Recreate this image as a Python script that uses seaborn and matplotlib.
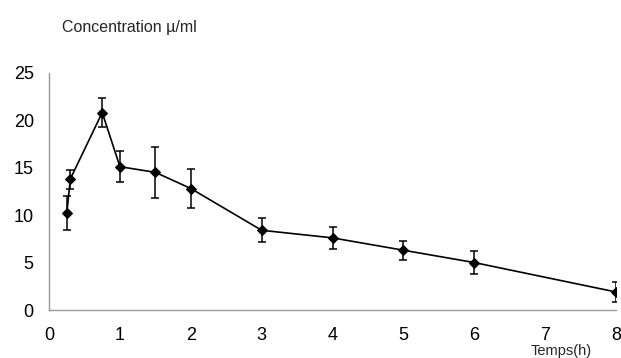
import pandas as pd
import matplotlib
matplotlib.use("Agg")
import matplotlib.pyplot as plt
import seaborn as sns

# time (h), concentration and its error
temps = [0.25, 0.3, 0.75, 1, 1.5, 2, 3, 4, 5, 6, 8]
conc = [10.2, 13.8, 20.8, 15.1, 14.5, 12.8, 8.4, 7.6, 6.3, 5.0, 1.9]
err = [1.8, 1.0, 1.5, 1.6, 2.7, 2.1, 1.25, 1.15, 1.0, 1.2, 1.1]

df = pd.DataFrame({"Temps": temps, "Conc": conc, "Err": err})

sns.set_style("white")
plt.rcParams['font.family'] = ['Liberation Sans', 'DejaVu Sans']

fig = plt.figure(figsize=(6.21, 3.58), dpi=100)
ax = fig.add_axes([0.079, 0.134, 0.913, 0.663])

# error bars with caps
ax.errorbar(df["Temps"], df["Conc"], yerr=df["Err"], fmt="none",
            ecolor="black", elinewidth=1.1, capsize=3, capthick=1.1, zorder=2)
sns.lineplot(data=df, x="Temps", y="Conc", color="black", linewidth=1.2,
             marker="D", markersize=5.5, markeredgecolor="black", ax=ax, zorder=3)

ax.set_xlim(0, 8)
ax.set_ylim(0, 25)
ax.set_xticks(range(0, 9))
ax.set_yticks(range(0, 26, 5))
ax.set_xlabel("")
ax.set_ylabel("")

for s in ["top", "right"]:
    ax.spines[s].set_visible(False)
for s in ["left", "bottom"]:
    ax.spines[s].set_color("#999999")
    ax.spines[s].set_linewidth(1)
ax.tick_params(axis="both", which="major", direction="out", length=5,
               width=1, color="#999999", labelsize=13, labelcolor="black", pad=6)
ax.tick_params(axis="x", pad=7)

fig.text(0.1, 0.922, "Concentration \u00b5/ml", fontsize=11.5, ha="left", va="center")
fig.text(0.855, 0.0, "Temps(h)", fontsize=10.5, ha="left", va="bottom")

fig.savefig("out.png", dpi=100)
